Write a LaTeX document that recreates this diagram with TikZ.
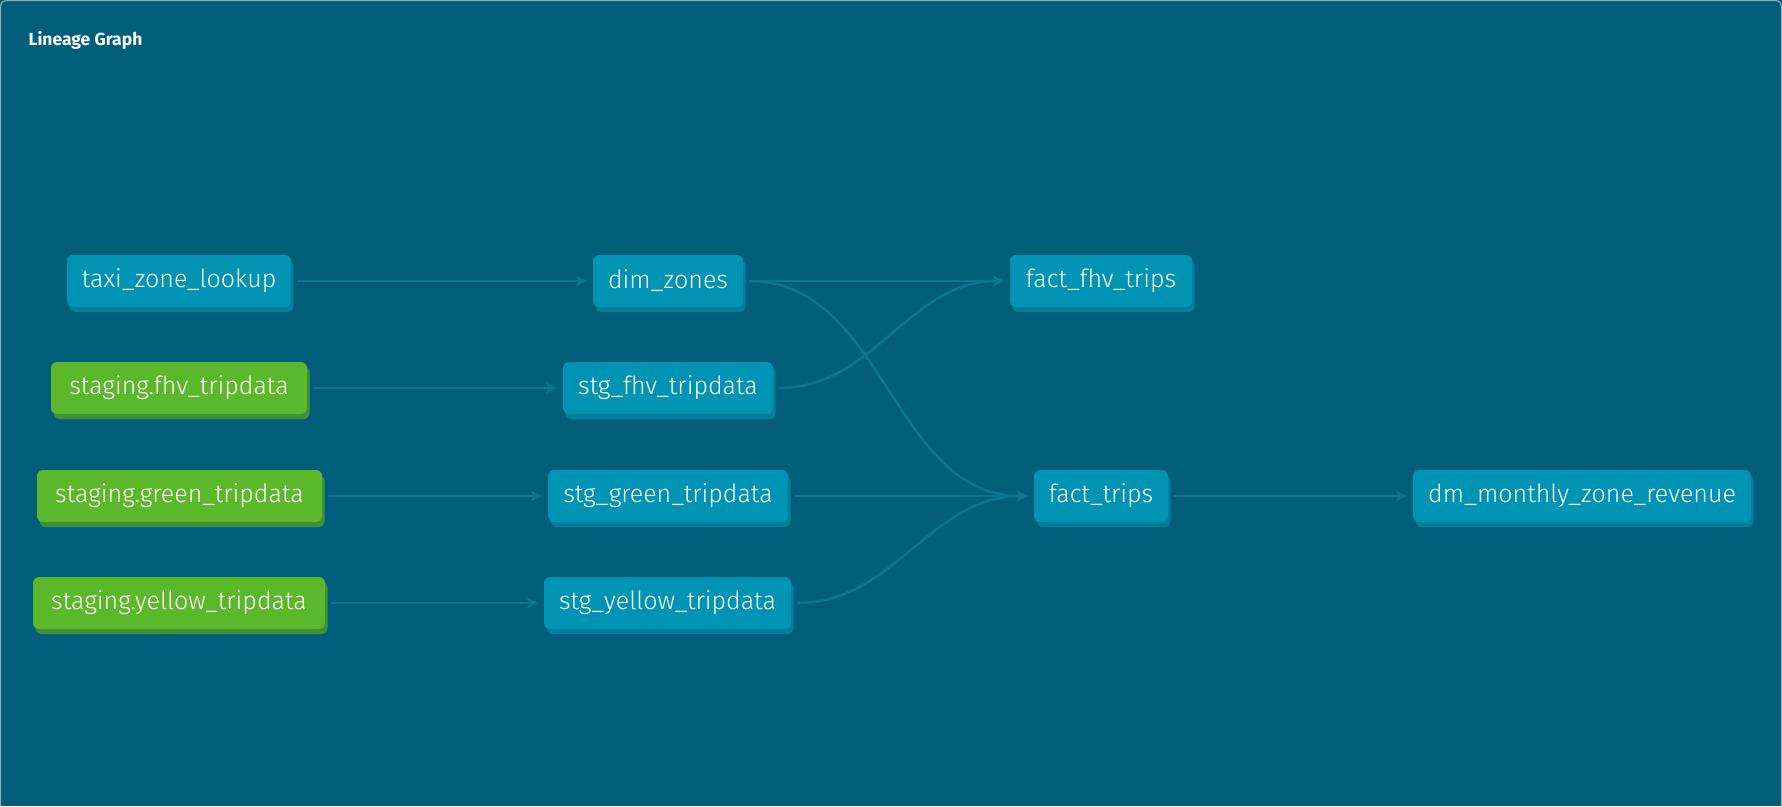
\documentclass[tikz,border=0pt]{standalone}
\usepackage{fontspec}
\newfontfamily\nodefont{Fira Sans}[UprightFont={* Light}]
\newfontfamily\titlefont{Fira Sans}
\usetikzlibrary{arrows.meta,shadows}
\definecolor{bgc}{HTML}{005E7A}
\definecolor{bordc}{HTML}{9AA8AE}
\definecolor{boxc}{HTML}{0094B4}
\definecolor{boxsh}{HTML}{007E9B}
\definecolor{grn}{HTML}{5CB82B}
\definecolor{grnsh}{HTML}{3E8F35}
\definecolor{edgec}{HTML}{0B7693}
\tikzset{
  model/.style={rectangle, rounded corners=6pt, fill=boxc, text=white,
    minimum height=52pt, inner xsep=4pt, inner ysep=0pt,
    font=\nodefont\fontsize{25}{27}\selectfont,
    drop shadow={shadow xshift=2.5pt, shadow yshift=-5pt, fill=boxsh, opacity=1}},
  source/.style={model, fill=grn,
    drop shadow={shadow xshift=2.5pt, shadow yshift=-5pt, fill=grnsh, opacity=1}},
  link/.style={draw=edgec, line width=2.5pt, shorten <=6pt, shorten >=6pt,
    -{Stealth[length=11pt,width=11pt,inset=3pt]}},
}
\begin{document}
\begin{tikzpicture}[x=1pt,y=-1pt]
\useasboundingbox (0,0) rectangle (1782,806);
\fill[bgc] (0,0) rectangle (1782,806);
\draw[bordc, line width=1.2pt, rounded corners=5pt] (0.6,806) -- (0.6,0.6) -- (1781.4,0.6) -- (1781.4,806);
\node[anchor=base west, text=white, font=\titlefont\bfseries\fontsize{17.5}{20}\selectfont] (title) at (25,45.5) {Lineage Graph};

\node[model,  minimum width=224pt] (taxi) at (179,281) {taxi\_zone\_lookup};
\node[source, minimum width=256pt] (sfhv) at (179,388) {staging.fhv\_tripdata};
\node[source, minimum width=285pt] (sgreen) at (179.5,496) {staging.green\_tripdata};
\node[source, minimum width=292pt] (syellow) at (179,603) {staging.yellow\_tripdata};

\node[model, minimum width=150pt] (dim) at (668,281) {dim\_zones};
\node[model, minimum width=210pt] (stgfhv) at (668,388) {stg\_fhv\_tripdata};
\node[model, minimum width=240pt] (stggreen) at (668,496) {stg\_green\_tripdata};
\node[model, minimum width=247pt] (stgyellow) at (667.5,603) {stg\_yellow\_tripdata};

\node[model, minimum width=182pt] (factfhv) at (1101,281) {fact\_fhv\_trips};
\node[model, minimum width=134pt] (fact) at (1101,496) {fact\_trips};
\node[model, minimum width=338pt] (dm) at (1582,496) {dm\_monthly\_zone\_revenue};

\draw[link] (taxi) -- (dim);
\draw[link] (sfhv) -- (stgfhv);
\draw[link] (sgreen) -- (stggreen);
\draw[link] (syellow) -- (stgyellow);
\draw[link] (dim.east) -- (factfhv.west);
\draw[link] (dim.east) to[out=0,in=180] (fact.west);
\draw[link] (stgfhv.east) to[out=0,in=180] (factfhv.west);
\draw[link] (stggreen.east) -- (fact.west);
\draw[link] (stgyellow.east) to[out=0,in=180] (fact.west);
\draw[link] (fact) -- (dm);
\end{tikzpicture}
\end{document}
